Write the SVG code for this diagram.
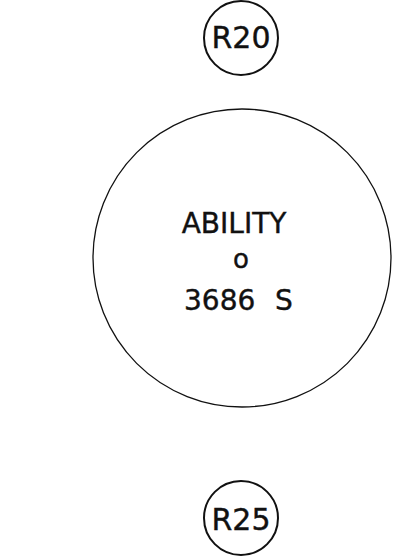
<svg xmlns="http://www.w3.org/2000/svg" width="418" height="557" viewBox="0 0 418 557">
<style>
.c{fill:none;stroke:#111;}
.t{font-family:"DejaVu Sans","Liberation Sans",sans-serif;fill:#111;stroke:#111;stroke-width:0.4;}
.m{text-anchor:middle;}
</style>
<rect width="418" height="557" fill="#fff"/>
<g id="R20">
<circle class="c" cx="241" cy="38" r="37" stroke-width="2"/>
<text class="t m" x="241" y="48" font-size="30">R20</text>
</g>
<g id="ability">
<circle class="c" cx="242" cy="258" r="149" stroke-width="1.3"/>
<text class="t m" x="234" y="233" font-size="28">ABILITY</text>
<text class="t m" x="241" y="268" font-size="26">o</text>
<text class="t" y="310" font-size="28"><tspan x="184">3686</tspan><tspan x="275">S</tspan></text>
</g>
<g id="R25">
<circle class="c" cx="241" cy="518" r="37" stroke-width="2"/>
<text class="t m" x="241" y="530" font-size="30">R25</text>
</g>
<g id="connectors"></g>
</svg>
